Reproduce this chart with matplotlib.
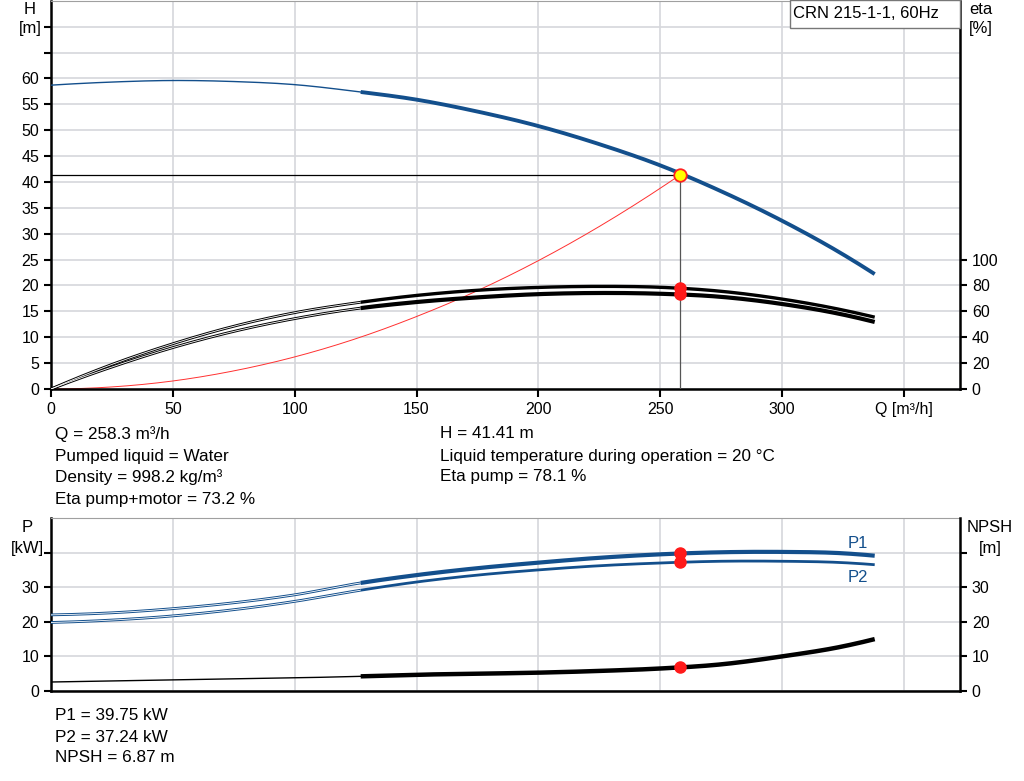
import numpy as np
import matplotlib
matplotlib.use("Agg")
import matplotlib.pyplot as plt
from matplotlib.patches import Rectangle

plt.rcParams['font.family'] = ['Liberation Sans', 'DejaVu Sans']
plt.rcParams['font.size'] = 11.5

# --- data ---
q_op = 258.3
h_op = 41.41
eta_op = 78.1
eta_tot_op = 73.2
p1_op = 39.75
p2_op = 37.24
npsh_op = 6.87

q = [0, 25, 50, 75, 100, 125, 150, 175, 200, 225, 250, 275, 300, 325, 338]
head = [58.7, 59.3, 59.6, 59.4, 58.8, 57.5, 55.9, 53.6, 50.8, 47.3, 43.2, 38.2, 32.5, 26.0, 22.2]
eta_pump = [0, 19, 35, 48.5, 59, 66.5, 72.3, 76.3, 78.5, 79.3, 78.6, 75.5, 69.5, 61.0, 55.5]
eta_total = [0, 17, 32, 44.5, 54.4, 62, 67.2, 70.8, 73.3, 74.2, 73.6, 71.2, 65.7, 57.5, 51.8]
p1 = [22.0, 22.6, 23.8, 25.5, 27.8, 31.0, 33.5, 35.5, 37.1, 38.5, 39.5, 40.1, 40.2, 39.8, 39.1]
p2 = [19.8, 20.5, 21.7, 23.5, 25.9, 28.9, 31.5, 33.5, 35.0, 36.2, 37.0, 37.5, 37.5, 37.1, 36.5]
npsh = [2.6, 2.9, 3.2, 3.5, 3.8, 4.2, 4.7, 5.0, 5.3, 5.8, 6.5, 7.7, 10.0, 12.9, 15.0]

q_sys = [0, 25, 50, 75, 100, 125, 150, 175, 200, 225, 258.3]
h_sys = [0, 0.4, 1.55, 3.5, 6.2, 9.7, 14.0, 19.0, 24.8, 31.4, 41.41]

x_ticks = [0, 50, 100, 150, 200, 250, 300, 350]
x_labels = ['0', '50', '100', '150', '200', '250', '300', 'Q [m³/h]']

blue = '#134f8c'
grid_c = '#d6d7db'
W, Hpx = 1024, 781


def smooth(xs, ys):
    # cubic Hermite through the read points
    xs = np.asarray(xs, float)
    ys = np.asarray(ys, float)
    n = len(xs)
    m = np.gradient(ys, xs, edge_order=2)
    px, py = [], []
    for i in range(n - 1):
        h = xs[i + 1] - xs[i]
        t = np.linspace(0, 1, 25)
        yy = ((2 * t**3 - 3 * t**2 + 1) * ys[i] + (t**3 - 2 * t**2 + t) * h * m[i]
              + (-2 * t**3 + 3 * t**2) * ys[i + 1] + (t**3 - t**2) * h * m[i + 1])
        px.extend(xs[i] + t * h)
        py.extend(yy)
    return np.array(px), np.array(py)


def curve(ax, xs, ys, color, lw_thick, double=False, q_split=128):
    sx, sy = smooth(xs, ys)
    thin = sx <= q_split
    thick = sx >= q_split - 1
    if double:
        ax.plot(sx[thin], sy[thin], color=color, lw=2.0, solid_capstyle='butt', zorder=3)
        ax.plot(sx[thin], sy[thin], color='white', lw=0.6, solid_capstyle='butt', zorder=3.1)
    else:
        ax.plot(sx[thin], sy[thin], color=color, lw=1.0, zorder=3)
    ax.plot(sx[thick], sy[thick], color=color, lw=lw_thick, solid_capstyle='butt', zorder=3.2)


def style(ax):
    ax.set_xlim(0, 373)
    ax.grid(True, color=grid_c, lw=1.2)
    ax.set_axisbelow(True)
    for s in ['left', 'bottom']:
        ax.spines[s].set_linewidth(1.8)
    ax.spines['top'].set_color('#a0a0a0')
    ax.spines['right'].set_visible(False)
    ax.tick_params(direction='out', length=5, width=1.5, labelsize=11.5)


def right_axis(ax):
    for s in ['left', 'top', 'bottom']:
        ax.spines[s].set_visible(False)
    ax.spines['right'].set_linewidth(1.8)
    ax.tick_params(direction='out', length=5, width=1.5, labelsize=11.5)


fig = plt.figure(figsize=(W / 100, Hpx / 100), dpi=100)

# ---------- top panel ----------
ax = fig.add_axes([51 / W, 1 - 389 / Hpx, (960 - 51) / W, 389 / Hpx - 0.001])
style(ax)
ax.set_ylim(0, 75)
ax.set_yticks(np.arange(0, 75, 5))
ax.set_yticklabels([str(v) if v <= 60 else '' for v in range(0, 75, 5)])
ax.set_xticks(x_ticks)
ax.set_xticklabels(x_labels)
ax.tick_params(axis='x', length=6)

ax2 = ax.twinx()
ax2.set_ylim(0, 300)
ax2.set_yticks([0, 20, 40, 60, 80, 100])
right_axis(ax2)

curve(ax, q, head, blue, 2.8)
curve(ax2, q, eta_pump, 'black', 2.4, double=True)
curve(ax2, q, eta_total, 'black', 3.0, double=True)

sx, sy = smooth(q_sys, h_sys)
ax.plot(sx, sy, color='#ff3030', lw=0.7, zorder=2.5)
ax.plot([0, q_op], [h_op, h_op], color='black', lw=0.9, zorder=2.6)
ax.plot([q_op, q_op], [0, h_op], color='#555555', lw=0.9, zorder=2.6)
ax.plot([q_op], [h_op], 'o', ms=9, mfc='#ffff00', mec='#ff2020', mew=1.3, zorder=5)
ax2.plot([q_op, q_op], [eta_op, eta_tot_op], 'o', ms=8, color='#ff1a1a', zorder=5)

fig.text(30 / W, 1 - 9 / Hpx, 'H', ha='center', va='center', fontsize=12)
fig.text(30 / W, 1 - 29 / Hpx, '[m]', ha='center', va='center', fontsize=12)
fig.text(981 / W, 1 - 10 / Hpx, 'eta', ha='center', va='center', fontsize=12)
fig.text(981 / W, 1 - 29 / Hpx, '[%]', ha='center', va='center', fontsize=12)
fig.patches.append(Rectangle((790 / W, 1 - 28 / Hpx), 170 / W, 28 / Hpx, transform=fig.transFigure,
                             fc='white', ec='#777777', lw=1, zorder=10))
fig.text(866 / W, 1 - 14 / Hpx, 'CRN 215-1-1, 60Hz', ha='center', va='center', fontsize=12, zorder=11)

# ---------- info text ----------
left_info = ['Q = 258.3 m³/h', 'Pumped liquid = Water', 'Density = 998.2 kg/m³', 'Eta pump+motor = 73.2 %']
right_info = ['H = 41.41 m', 'Liquid temperature during operation = 20 °C', 'Eta pump = 78.1 %']
ys_info = [434, 456, 477, 499]
for t, y in zip(left_info, ys_info):
    fig.text(55 / W, 1 - y / Hpx, t, va='center', fontsize=12.3)
for t, y in zip(right_info, ys_info):
    fig.text(440 / W, 1 - y / Hpx, t, va='center', fontsize=12.3)

# ---------- bottom panel ----------
bx = fig.add_axes([51 / W, 1 - 691 / Hpx, (960 - 51) / W, (691 - 518) / Hpx])
style(bx)
bx.set_ylim(0, 50)
bx.set_yticks([0, 10, 20, 30, 40])
bx.set_yticklabels(['0', '10', '20', '30', ''])
bx.set_xticks(x_ticks)
bx.tick_params(axis='x', length=0, labelbottom=False)

bx2 = bx.twinx()
bx2.set_ylim(0, 50)
bx2.set_yticks([0, 10, 20, 30, 40])
bx2.set_yticklabels(['0', '10', '20', '30', ''])
right_axis(bx2)

curve(bx, q, p1, blue, 3.0, double=True)
curve(bx, q, p2, blue, 2.0, double=True)
curve(bx2, q, npsh, 'black', 3.2)
bx.plot([q_op, q_op], [p1_op, p2_op], 'o', ms=8, color='#ff1a1a', zorder=5)
bx2.plot([q_op], [npsh_op], 'o', ms=8, color='#ff1a1a', zorder=5)

bx.text(331, 42.6, 'P1', color=blue, ha='center', va='center', fontsize=12)
bx.text(331, 32.8, 'P2', color=blue, ha='center', va='center', fontsize=12)

fig.text(27 / W, 1 - 527 / Hpx, 'P', ha='center', va='center', fontsize=12)
fig.text(27 / W, 1 - 549 / Hpx, '[kW]', ha='center', va='center', fontsize=12)
fig.text(990 / W, 1 - 527 / Hpx, 'NPSH', ha='center', va='center', fontsize=12)
fig.text(990 / W, 1 - 549 / Hpx, '[m]', ha='center', va='center', fontsize=12)

bottom_info = ['P1 = 39.75 kW', 'P2 = 37.24 kW', 'NPSH = 6.87 m']
for t, y in zip(bottom_info, [716, 738, 758]):
    fig.text(55 / W, 1 - y / Hpx, t, va='center', fontsize=12.3)

fig.savefig('out.png', dpi=100)
